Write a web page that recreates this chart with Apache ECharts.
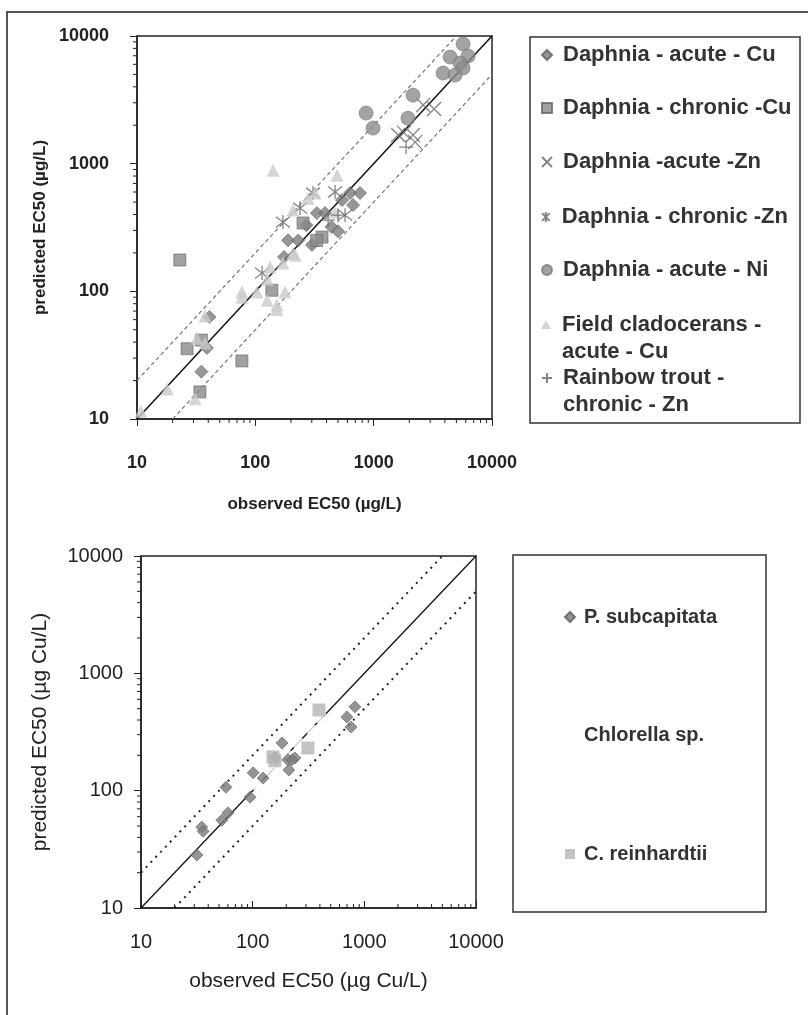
<!DOCTYPE html>
<html>
<head>
<meta charset="utf-8">
<script src="https://cdn.jsdelivr.net/npm/echarts@6/dist/echarts.min.js"></script>
<style>
html, body { margin: 0; padding: 0; background: #fff; }
#main { width: 808px; height: 1015px; }
</style>
</head>
<body>
<div id="main"></div>
<script>
// ---- top panel data: [observed, predicted] (µg/L) ----
var daphniaAcuteCu = [[35, 23.5], [39, 36], [41, 63], [175, 186], [189, 251], [230, 250], [301, 231],
    [270, 330], [331, 410], [388, 410], [440, 320], [500, 295], [541, 519], [632, 589], [767, 589], [670, 474]];
var daphniaChronicCu = [[23, 176], [26.5, 35.5], [35, 41.5], [34, 16.3], [77, 28.5], [138, 102],
    [253, 343], [366, 266], [330, 250]];
var daphniaAcuteZn = [[2620, 2880], [3240, 2680], [1610, 1675], [2150, 1675], [2240, 1475], [1800, 1750]];
var daphniaChronicZn = [[307, 589], [472, 600], [239, 449], [171, 349], [573, 395], [114, 139]];
var daphniaAcuteNi = [[4430, 6840], [5700, 8650], [6280, 6970], [5370, 6140], [5700, 5610], [3860, 5120],
    [4880, 4940], [2150, 3440], [863, 2490], [988, 1900], [1950, 2270]];
var fieldCladoceransCu = [[10.8, 11.5], [18, 17.2], [31, 14.4], [32, 43], [37.6, 39.4], [37.6, 64], [77, 99],
    [77, 90], [103, 99], [126, 85], [152, 78], [152, 72], [178, 99], [133, 155], [126, 125], [171, 167],
    [208, 200], [217, 192], [141, 890], [490, 810], [208, 434], [279, 537], [320, 589], [472, 417]];
var rainbowTroutZn = [[1880, 1350], [412, 361], [500, 395]];

// ---- bottom panel data: [observed, predicted] (µg Cu/L) ----
var pSubcapitata = [[31.7, 28.3], [35, 49], [36, 45], [53, 56], [60, 64.6], [57.7, 107], [94.6, 88],
    [101, 142], [124, 128], [183, 255], [158, 190], [207, 183], [211, 150], [239, 190], [225, 183],
    [698, 425], [759, 349], [824, 518]];
var chlorella = [[105, 115], [120, 110], [140, 150], [175, 165], [195, 205], [260, 250], [350, 320], [410, 420]];
var cReinhardtii = [[152, 194], [158, 180], [313, 231], [393, 487]];

// ---- reference lines ----
var oneToOne = [[10, 10], [10000, 10000]];
var upperTwoFold = [[10, 20], [5000, 10000]];
var lowerTwoFold = [[20, 10], [10000, 5000]];

var decadeLabels = [10, 100, 1000, 10000];
var minorTickValues = [20, 30, 40, 50, 60, 70, 80, 90, 200, 300, 400, 500, 600, 700, 800, 900,
    2000, 3000, 4000, 5000, 6000, 7000, 8000, 9000];

var mainFont = 'Liberation Sans';

var crossPath = 'path://M0,0L10,10M10,0L0,10';
var starPath = 'path://M0,0L10,10M10,0L0,10M5,-1.5L5,11.5';
var plusPath = 'path://M5,0L5,10M0,5L10,5';
// legend icons for two-line entries: symbol sits at the first text line
var triangleIconTall = 'path://M5,0L10,9L0,9ZM0,37L10,37';
var plusIconTall = 'path://M5,0L5,10M0,5L10,5M5,37L5,37.01';

function tickRenderer(dim, len) {
    return function (params, api) {
        var p = api.coord([api.value(0), api.value(1)]);
        var shape = dim === 'x'
            ? {x1: p[0], y1: p[1], x2: p[0], y2: p[1] + len}
            : {x1: p[0], y1: p[1], x2: p[0] - len, y2: p[1]};
        return {type: 'line', shape: shape, style: {stroke: '#222', lineWidth: 1}};
    };
}

function logAxis(idx, opts) {
    return {
        type: 'log', logBase: 10, min: 10, max: 10000, gridIndex: idx,
        name: opts.name, nameLocation: 'middle', nameGap: opts.nameGap,
        nameTextStyle: {fontFamily: mainFont, fontWeight: opts.weight, fontSize: opts.nameSize, color: '#222'},
        axisLine: {show: true, lineStyle: {color: '#222', width: 1.5}},
        axisTick: {show: true, inside: !!opts.tickInside, length: 7, lineStyle: {color: '#222'}},
        minorTick: {show: false},
        splitLine: {show: false},
        axisLabel: {
            margin: opts.margin, fontFamily: mainFont, fontWeight: opts.weight, fontSize: opts.labelSize, color: '#222',
            formatter: function (v) {
                var r = Math.round(v);
                return decadeLabels.indexOf(r) >= 0 ? String(r) : '';
            }
        }
    };
}

function refLine(name, data, x, color, width, type) {
    return {
        type: 'line', name: name, data: data, xAxisIndex: x, yAxisIndex: x, symbol: 'none',
        silent: true, lineStyle: {color: color, width: width, type: type}, z: 1
    };
}

function scatter(name, data, idx, symbol, size, style) {
    return {type: 'scatter', name: name, data: data, xAxisIndex: idx, yAxisIndex: idx,
        symbol: symbol, symbolSize: size, itemStyle: style, z: 3};
}

function minorSeries(idx, dim, len) {
    var data = minorTickValues.map(function (v) { return dim === 'x' ? [v, 10] : [10, v]; });
    return {type: 'custom', xAxisIndex: idx, yAxisIndex: idx, data: data, silent: true,
        renderItem: tickRenderer(dim, len), z: 5};
}

var topLegendText = {fontFamily: mainFont, fontWeight: 'bold', fontSize: 22, lineHeight: 27, color: '#333', padding: [0, 0, 0, 6]};
var topLegendRows = [
    ['Daphnia - acute - Cu', 55],
    ['Daphnia - chronic -Cu', 108],
    ['Daphnia -acute -Zn', 162],
    ['Daphnia - chronic -Zn', 217],
    ['Daphnia - acute - Ni', 270],
    ['Field cladocerans - acute - Cu', 325],
    ['Rainbow trout - chronic - Zn', 378]
];
var twoLine = {
    'Field cladocerans - acute - Cu': {text: 'Field cladocerans -\nacute - Cu', icon: triangleIconTall},
    'Rainbow trout - chronic - Zn': {text: 'Rainbow trout -\nchronic - Zn', icon: plusIconTall}
};
var legends = topLegendRows.map(function (row) {
    var multi = twoLine[row[0]];
    return {
        data: [multi ? {name: row[0], icon: multi.icon} : row[0]],
        left: 541, top: row[1] - 13.5, padding: 0,
        itemWidth: 10, itemHeight: multi ? 37 : 10, selectedMode: false,
        formatter: function (n) { return twoLine[n] ? twoLine[n].text : n; },
        textStyle: topLegendText
    };
});
legends.push({
    data: ['P. subcapitata', 'Chlorella sp.', 'C. reinhardtii'], orient: 'vertical',
    left: 564, top: 604.5, padding: 0, itemGap: 93.5, itemWidth: 10, itemHeight: 10, selectedMode: false,
    textStyle: {fontFamily: mainFont, fontWeight: 'bold', fontSize: 20, lineHeight: 25, color: '#333', padding: [0, 0, 0, 4]}
});

var option = {
    animation: false,
    backgroundColor: '#fff',
    grid: [
        {left: 137, top: 36, width: 355, height: 383, show: true, borderColor: '#222', borderWidth: 1.5},
        {left: 141, top: 556, width: 335, height: 352, show: true, borderColor: '#222', borderWidth: 1.5}
    ],
    xAxis: [
        logAxis(0, {name: 'observed EC50 (µg/L)', nameGap: 77, margin: 35, weight: 'bold', labelSize: 18, nameSize: 17}),
        logAxis(1, {name: 'observed EC50 (µg Cu/L)', nameGap: 63, margin: 24, weight: 'normal', labelSize: 20, nameSize: 21, tickInside: true})
    ],
    yAxis: [
        logAxis(0, {name: 'predicted EC50 (µg/L)', nameGap: 88, margin: 28, weight: 'bold', labelSize: 18, nameSize: 17}),
        logAxis(1, {name: 'predicted EC50 (µg Cu/L)', nameGap: 90, margin: 18, weight: 'normal', labelSize: 20, nameSize: 21})
    ],
    legend: legends,
    graphic: [
        {type: 'rect', shape: {x: 7, y: 12, width: 900, height: 1100}, style: {fill: 'none', stroke: '#555', lineWidth: 2}, silent: true},
        {type: 'rect', shape: {x: 530, y: 37, width: 270, height: 386}, style: {fill: 'none', stroke: '#333', lineWidth: 1.5}, silent: true},
        {type: 'rect', shape: {x: 513, y: 555, width: 253, height: 357}, style: {fill: 'none', stroke: '#333', lineWidth: 1.5}, silent: true}
    ],
    series: [
        refLine('1:1', oneToOne, 0, '#111', 1.5, 'solid'),
        refLine('2x upper', upperTwoFold, 0, '#777', 1.2, [4, 3]),
        refLine('2x lower', lowerTwoFold, 0, '#777', 1.2, [4, 3]),
        refLine('1:1 b', oneToOne, 1, '#111', 1.3, 'solid'),
        refLine('2x upper b', upperTwoFold, 1, '#222', 2, [2, 5]),
        refLine('2x lower b', lowerTwoFold, 1, '#222', 2, [2, 5]),

        scatter('Daphnia - acute - Cu', daphniaAcuteCu, 0, 'diamond', 13, {color: '#7d7d7d', borderColor: '#5e5e5e', borderWidth: 0.8}),
        scatter('Daphnia - chronic -Cu', daphniaChronicCu, 0, 'rect', 12, {color: '#8a8a8a', borderColor: '#666', borderWidth: 0.8}),
        scatter('Daphnia -acute -Zn', daphniaAcuteZn, 0, crossPath, 14, {color: '#666', borderColor: '#666', borderWidth: 1.3}),
        scatter('Daphnia - chronic -Zn', daphniaChronicZn, 0, starPath, 14, {color: '#666', borderColor: '#666', borderWidth: 1.3}),
        scatter('Daphnia - acute - Ni', daphniaAcuteNi, 0, 'circle', 14, {color: '#8c8c8c', borderColor: '#777', borderWidth: 0.8}),
        scatter('Field cladocerans - acute - Cu', fieldCladoceransCu, 0, 'triangle', 13, {color: '#cbcbcb'}),
        scatter('Rainbow trout - chronic - Zn', rainbowTroutZn, 0, plusPath, 14, {color: '#666', borderColor: '#666', borderWidth: 1.3}),

        scatter('Chlorella sp.', chlorella, 1, 'circle', 13, {color: '#fff'}),
        scatter('P. subcapitata', pSubcapitata, 1, 'diamond', 12, {color: '#7a7a7a', borderColor: '#5e5e5e', borderWidth: 0.8}),
        scatter('C. reinhardtii', cReinhardtii, 1, 'rect', 13, {color: '#b4b4b4'}),

        minorSeries(0, 'x', 4), minorSeries(0, 'y', 4), minorSeries(1, 'x', -4), minorSeries(1, 'y', 4)
    ]
};

var chart = echarts.init(document.getElementById('main'));
chart.setOption(option);
</script>
</body>
</html>
